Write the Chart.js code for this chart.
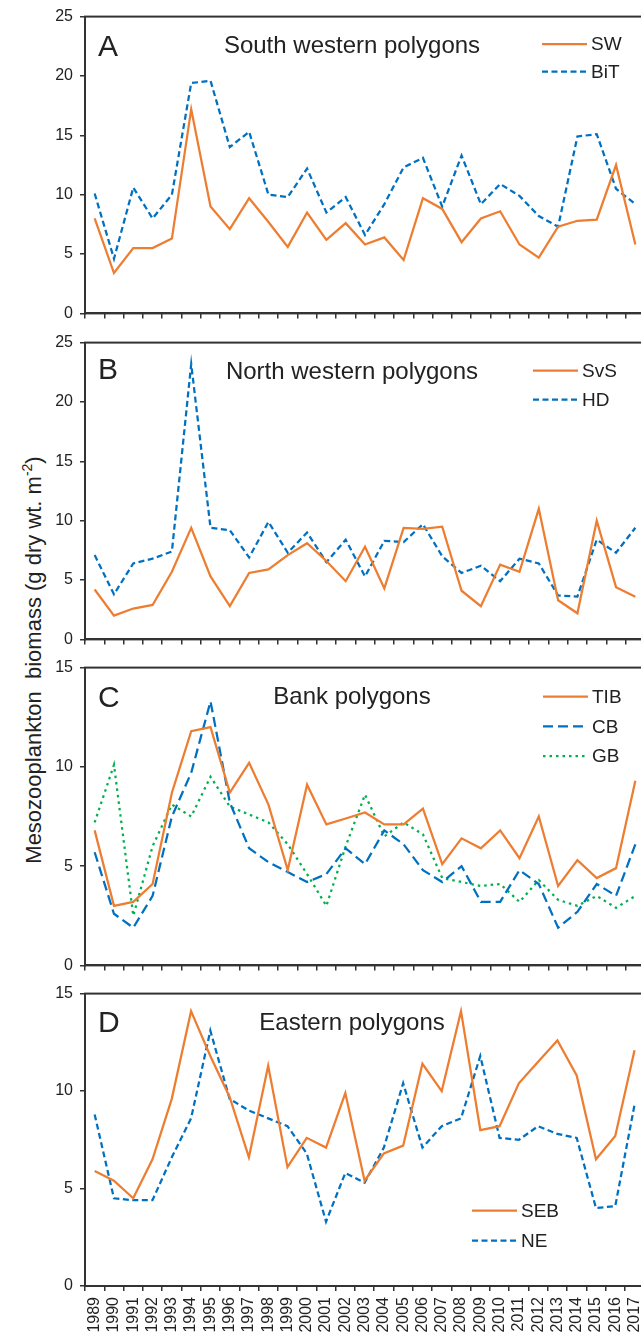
<!DOCTYPE html>
<html>
<head>
<meta charset="utf-8">
<script src="https://cdn.jsdelivr.net/npm/chart.js@4/dist/chart.umd.min.js"></script>
<style>
  html, body { margin: 0; padding: 0; background: #fff; overflow: hidden; }
  body { width: 641px; height: 1335px; position: relative; }
  canvas { position: absolute; left: 0; }
  #ytitle {
    position: absolute; left: 33px; top: 660px;
    transform: translate(-50%, -50%) rotate(-90deg);
    white-space: nowrap; font: 22px "Liberation Sans", Arial, sans-serif; color: #222;
  }
  #ytitle sup { font-size: 14px; }
</style>
</head>
<body>
<div id="ytitle">Mesozooplankton&nbsp; biomass (g dry wt. m<sup>-2</sup>)</div>
<canvas id="panelA"></canvas>
<canvas id="panelB"></canvas>
<canvas id="panelC"></canvas>
<canvas id="panelD"></canvas>
<script>
const years = ['1989', '1990', '1991', '1992', '1993', '1994', '1995', '1996', '1997', '1998',
  '1999', '2000', '2001', '2002', '2003', '2004', '2005', '2006', '2007', '2008',
  '2009', '2010', '2011', '2012', '2013', '2014', '2015', '2016', '2017'];

// South western polygons
const sw = [8.0, 3.4, 5.5, 5.5, 6.3, 17.2, 9.0, 7.1, 9.7, 7.7, 5.6, 8.5, 6.2, 7.6, 5.8, 6.4, 4.5, 9.7, 8.8, 6.0, 8.0, 8.6, 5.8, 4.7, 7.3, 7.8, 7.9, 12.5, 5.8];
const bit = [10.1, 4.6, 10.6, 8.0, 10.0, 19.4, 19.6, 14.0, 15.3, 10.0, 9.8, 12.2, 8.5, 9.8, 6.6, 9.2, 12.3, 13.1, 9.0, 13.3, 9.2, 10.9, 9.9, 8.2, 7.3, 14.9, 15.1, 10.5, 9.2];
// North western polygons
const svs = [4.2, 2.0, 2.6, 2.9, 5.7, 9.4, 5.3, 2.8, 5.6, 5.9, 7.1, 8.1, 6.6, 4.9, 7.8, 4.3, 9.4, 9.3, 9.5, 4.1, 2.8, 6.3, 5.7, 11.0, 3.3, 2.2, 10.0, 4.4, 3.6];
const hd = [7.1, 3.8, 6.4, 6.8, 7.4, 23.2, 9.4, 9.2, 6.9, 9.9, 7.3, 9.0, 6.5, 8.4, 5.3, 8.3, 8.2, 9.7, 7.0, 5.6, 6.2, 4.9, 6.8, 6.4, 3.7, 3.6, 8.4, 7.3, 9.4];
// Bank polygons
const tib = [6.8, 3.0, 3.2, 4.1, 8.7, 11.8, 12.0, 8.7, 10.2, 8.1, 4.8, 9.1, 7.1, 7.4, 7.7, 7.1, 7.1, 7.9, 5.1, 6.4, 5.9, 6.8, 5.4, 7.5, 4.0, 5.3, 4.4, 4.9, 9.3];
const cb = [5.7, 2.6, 1.9, 3.5, 7.5, 9.7, 13.3, 8.2, 5.9, 5.2, 4.7, 4.2, 4.6, 5.9, 5.1, 6.8, 6.1, 4.8, 4.2, 5.0, 3.2, 3.2, 4.8, 4.1, 1.9, 2.7, 4.1, 3.5, 6.1];
const gb = [7.2, 10.1, 2.5, 6.0, 8.1, 7.5, 9.5, 8.0, 7.6, 7.2, 6.1, 4.6, 3.0, 6.0, 8.6, 6.5, 7.2, 6.6, 4.4, 4.2, 4.0, 4.1, 3.2, 4.3, 3.3, 3.0, 3.5, 2.9, 3.5];
// Eastern polygons
const seb = [5.9, 5.4, 4.5, 6.5, 9.6, 14.1, 11.8, 9.7, 6.6, 11.3, 6.1, 7.6, 7.1, 9.9, 5.4, 6.8, 7.2, 11.4, 10.0, 14.1, 8.0, 8.2, 10.4, 11.5, 12.6, 10.8, 6.5, 7.7, 12.1];
const ne = [8.8, 4.5, 4.4, 4.4, 6.6, 8.6, 13.1, 9.6, 9.0, 8.6, 8.2, 6.8, 3.3, 5.8, 5.3, 7.1, 10.4, 7.1, 8.2, 8.6, 11.8, 7.6, 7.5, 8.2, 7.8, 7.6, 4.0, 4.1, 9.3];

const FONT = '"Liberation Sans", Arial, sans-serif';
const INK = '#222';
const AXIS = '#333';
const ORANGE = '#ED7D31';
const BLUE = '#0070C0';
const GREEN = '#00B050';

Chart.defaults.font.family = FONT;
Chart.defaults.color = INK;

// box around the plot area (left/bottom come from the axes)
const framePlugin = {
  id: 'frame',
  afterDraw(chart) {
    const a = chart.chartArea, ctx = chart.ctx;
    ctx.save();
    ctx.strokeStyle = AXIS;
    ctx.lineWidth = 2;
    ctx.strokeRect(a.left, a.top, a.right - a.left, a.bottom - a.top);
    ctx.restore();
  }
};

// panel letter, heading and line legend drawn inside the plot
const decorPlugin = {
  id: 'decor',
  afterDraw(chart, args, opts) {
    const ctx = chart.ctx, a = chart.chartArea;
    ctx.save();
    ctx.fillStyle = INK;
    ctx.textAlign = 'left';
    ctx.textBaseline = 'alphabetic';
    ctx.font = '30px ' + FONT;
    ctx.fillText(opts.letter, 98, a.top + opts.letterY);
    ctx.font = '24px ' + FONT;
    ctx.textAlign = 'center';
    ctx.fillText(opts.title, 352, a.top + 36);

    ctx.font = '19px ' + FONT;
    ctx.textAlign = 'left';
    ctx.textBaseline = 'middle';
    chart.data.datasets.forEach((ds, i) => {
      const y = a.top + opts.legendY + i * opts.legendGap;
      ctx.beginPath();
      ctx.setLineDash(ds.borderDash || []);
      ctx.strokeStyle = ds.borderColor;
      ctx.lineWidth = ds.borderWidth;
      ctx.moveTo(opts.legendX, y);
      ctx.lineTo(opts.legendX + 45, y);
      ctx.stroke();
      ctx.setLineDash([]);
      ctx.fillText(ds.label, opts.legendX + 49, y + 1);
    });
    ctx.restore();
  }
};

function series(label, data, color, dash) {
  return {
    label: label,
    data: data,
    borderColor: color,
    borderWidth: 2.25,
    borderDash: dash,
    pointRadius: 0,
    tension: 0,
    fill: false
  };
}

function makePanel(id, top, plotHeight, yMax, datasets, decor, showYears) {
  const canvas = document.getElementById(id);
  const padTop = 16;
  const xAxisHeight = showYears ? 1335 - (top + plotHeight) : 5;
  const padBottom = showYears ? 0 : 11;
  canvas.width = 660;
  canvas.height = padTop + plotHeight + xAxisHeight + padBottom;
  canvas.style.top = (top - padTop) + 'px';

  new Chart(canvas, {
    type: 'line',
    data: { labels: years, datasets: datasets },
    options: {
      responsive: false,
      animation: false,
      layout: { padding: { top: padTop, bottom: padBottom, left: 0, right: 15 } },
      scales: {
        x: {
          type: 'category',
          offset: true,
          grid: { offset: true, drawOnChartArea: false, tickLength: 5, color: AXIS, lineWidth: 1.5 },
          border: { color: AXIS, width: 2 },
          ticks: {
            display: showYears,
            autoSkip: false,
            minRotation: 90,
            maxRotation: 90,
            padding: 6,
            font: { size: 16 },
            color: INK
          },
          afterFit(scale) { scale.height = xAxisHeight; }
        },
        y: {
          min: 0,
          max: yMax,
          grid: { drawOnChartArea: false, tickLength: 5, color: AXIS, lineWidth: 1.5 },
          border: { color: AXIS, width: 2 },
          ticks: { stepSize: 5, padding: 7, font: { size: 16 }, color: INK },
          afterFit(scale) { scale.width = 85; }
        }
      },
      plugins: {
        legend: { display: false },
        tooltip: { enabled: false },
        decor: decor
      }
    },
    plugins: [framePlugin, decorPlugin]
  });
}

makePanel('panelA', 16, 298, 25, [
  series('SW', sw, ORANGE, []),
  series('BiT', bit, BLUE, [6, 3.5])
], { letter: 'A', letterY: 39, title: 'South western polygons', legendX: 542, legendY: 27.5, legendGap: 27.5 }, false);

makePanel('panelB', 342, 298, 25, [
  series('SvS', svs, ORANGE, []),
  series('HD', hd, BLUE, [6, 3.5])
], { letter: 'B', letterY: 36, title: 'North western polygons', legendX: 533, legendY: 28, legendGap: 29 }, false);

makePanel('panelC', 667, 299, 15, [
  series('TIB', tib, ORANGE, []),
  series('CB', cb, BLUE, [10, 5]),
  series('GB', gb, GREEN, [2.5, 4])
], { letter: 'C', letterY: 39, title: 'Bank polygons', legendX: 543, legendY: 29, legendGap: 29.8 }, false);

makePanel('panelD', 993, 293, 15, [
  series('SEB', seb, ORANGE, []),
  series('NE', ne, BLUE, [6, 3.5])
], { letter: 'D', letterY: 38.5, title: 'Eastern polygons', legendX: 472, legendY: 217, legendGap: 30 }, true);
</script>
</body>
</html>
